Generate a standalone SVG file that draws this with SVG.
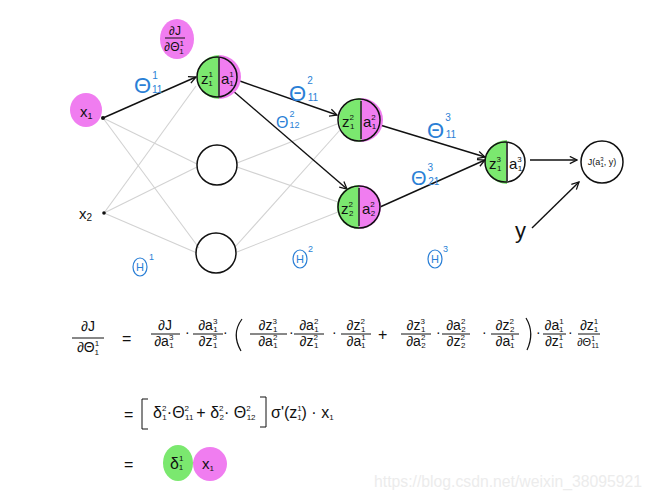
<svg xmlns="http://www.w3.org/2000/svg" width="654" height="500" viewBox="0 0 654 500">
<defs>
<marker id="ah" viewBox="0 0 10 10" refX="9" refY="5" markerWidth="9" markerHeight="9" markerUnits="userSpaceOnUse" orient="auto"><path d="M1,1 L9,5 L1,9" fill="none" stroke="#111" stroke-width="1.4"/></marker>
</defs>
<style>
.g{stroke:#d2d2d2;stroke-width:1.1;fill:none}
.k{stroke:#111;stroke-width:1.4;fill:none}
.a{marker-end:url(#ah)}
.nd{fill:none;stroke:#111;stroke-width:1.5}
.dv{stroke:#444;stroke-width:2}
.gr{fill:#7be86f}
.pk{fill:#f07df0}
.t{font-family:"Liberation Sans","DejaVu Sans",sans-serif;fill:#111}
.bl{font-family:"Liberation Sans","DejaVu Sans",sans-serif;fill:#2a7fd6}
.s{font-size:8px}
.fb{stroke:#111;stroke-width:1}
.pa{stroke:#111;stroke-width:1.2;fill:none}
.eq{font-size:14px}
.wm{font-family:"Liberation Sans",sans-serif;font-size:16px;fill:#ececec}
</style>
<rect width="654" height="500" fill="#fff"/>

<g id="connectors">
<line class="g" x1="103" y1="118" x2="197" y2="164"/>
<line class="g" x1="103" y1="118" x2="199" y2="248"/>
<line class="g" x1="104" y1="213" x2="196" y2="86"/>
<line class="g" x1="104" y1="213" x2="197" y2="167"/>
<line class="g" x1="104" y1="213" x2="197" y2="253"/>
<line class="g" x1="237" y1="163" x2="337" y2="124"/>
<line class="g" x1="237" y1="167" x2="338" y2="202"/>
<line class="g" x1="235" y1="247" x2="340" y2="130"/>
<line class="g" x1="237" y1="252" x2="338" y2="212"/>
<line class="k a" x1="103" y1="118" x2="196" y2="77"/>
<line class="k a" x1="237" y1="80" x2="337" y2="115"/>
<line class="k a" x1="232" y1="90" x2="347" y2="189"/>
<line class="k a" x1="380" y1="125" x2="485" y2="157"/>
<line class="k a" x1="380" y1="207" x2="485" y2="160"/>
<line class="k a" x1="530" y1="160" x2="577" y2="160"/>
<line class="k a" x1="532" y1="228" x2="579" y2="182"/>
</g>

<g id="x1">
<ellipse class="pk" cx="86" cy="110" rx="16" ry="17"/>
<text class="t" x="80" y="117" font-size="15">x<tspan font-size="9" dy="2">1</tspan></text>
<circle cx="103" cy="118" r="2" fill="#111"/>
</g>
<g id="x2">
<text class="t" x="79" y="219" font-size="15">x<tspan font-size="10" dy="2">2</tspan></text>
<circle cx="104" cy="213" r="1.8" fill="#111"/>
</g>

<g id="dJ">
<ellipse class="pk" cx="177" cy="39" rx="17" ry="20"/>
<text class="t" x="175" y="35" font-size="12" text-anchor="middle">∂J</text>
<line class="fb" x1="165" y1="38" x2="185" y2="38"/>
<text class="t" x="174" y="51" font-size="12" text-anchor="middle">∂Θ<tspan class="s" dy="-5">1</tspan><tspan class="s" dx="-4" dy="8">1</tspan></text>
</g>

<g id="n11">
<path class="gr" d="M219,55 A22,22 0 0 0 219,99 Z"/>
<path class="pk" d="M219,55 A22,22 0 0 1 219,99 Z"/>
<circle class="nd" cx="217" cy="77" r="20"/>
<line class="dv" x1="219" y1="58" x2="219" y2="96"/>
<text class="t" x="201" y="84" font-size="15">z<tspan class="s" dy="-7">1</tspan><tspan class="s" dx="-4" dy="9">1</tspan></text>
<text class="t" x="221" y="84" font-size="15">a<tspan class="s" dy="-7">1</tspan><tspan class="s" dx="-4" dy="9">1</tspan></text>
</g>
<g id="n12"><circle class="nd" cx="217" cy="165" r="20"/></g>
<g id="n13"><circle class="nd" cx="216" cy="253" r="20"/></g>

<g id="n21">
<path class="gr" d="M361,98 A22,22 0 0 0 361,142 Z"/>
<path class="pk" d="M361,98 A22,22 0 0 1 361,142 Z"/>
<circle class="nd" cx="359" cy="120" r="21"/>
<line class="dv" x1="361" y1="101" x2="361" y2="139"/>
<text class="t" x="342" y="127" font-size="15">z<tspan class="s" dy="-7">2</tspan><tspan class="s" dx="-4" dy="9">1</tspan></text>
<text class="t" x="363" y="127" font-size="15">a<tspan class="s" dy="-7">2</tspan><tspan class="s" dx="-4" dy="9">1</tspan></text>
</g>
<g id="n22">
<path class="gr" d="M359,185 A22,22 0 0 0 359,229 Z"/>
<path class="pk" d="M359,185 A22,22 0 0 1 359,229 Z"/>
<circle class="nd" cx="359" cy="207" r="21"/>
<line class="dv" x1="359" y1="188" x2="359" y2="226"/>
<text class="t" x="341" y="214" font-size="15">z<tspan class="s" dy="-7">2</tspan><tspan class="s" dx="-4" dy="9">2</tspan></text>
<text class="t" x="362" y="214" font-size="15">a<tspan class="s" dy="-7">2</tspan><tspan class="s" dx="-4" dy="9">2</tspan></text>
</g>

<g id="n31">
<path class="gr" d="M507,140 A22,22 0 0 0 507,184 Z"/>
<circle class="nd" cx="505" cy="162" r="20"/>
<line class="dv" x1="507" y1="143" x2="507" y2="181"/>
<text class="t" x="489" y="169" font-size="15">z<tspan class="s" dy="-7">3</tspan><tspan class="s" dx="-4" dy="9">1</tspan></text>
<text class="t" x="509" y="169" font-size="15">a<tspan class="s" dy="-7">3</tspan><tspan class="s" dx="-4" dy="9">1</tspan></text>
</g>

<g id="J">
<circle class="nd" cx="602" cy="162" r="21"/>
<text class="t" x="602" y="165" font-size="9" text-anchor="middle">J(a<tspan font-size="6" dy="-4">3</tspan><tspan font-size="6" dx="-3" dy="6">1</tspan><tspan dy="-2">, y)</tspan></text>
</g>

<g id="y">
<text class="t" x="515" y="238" font-size="22">y</text>
</g>

<g id="weights">
<text class="bl" x="134" y="93" font-size="22">Θ<tspan font-size="10" dx="1" dy="-14">1</tspan><tspan font-size="10" dx="-5" dy="14">11</tspan></text>
<text class="bl" x="289" y="101" font-size="22">Θ<tspan font-size="10" dx="1" dy="-17">2</tspan><tspan font-size="10" dx="-5" dy="17">11</tspan></text>
<text class="bl" x="276" y="128" font-size="16">Θ<tspan font-size="9" dx="1" dy="-11">2</tspan><tspan font-size="9" dx="-5" dy="11">12</tspan></text>
<text class="bl" x="427" y="138" font-size="22">Θ<tspan font-size="10" dx="1" dy="-17">3</tspan><tspan font-size="10" dx="-5" dy="17">11</tspan></text>
<text class="bl" x="411" y="185" font-size="20">Θ<tspan font-size="10" dx="1" dy="-14">3</tspan><tspan font-size="10" dx="-5" dy="14">21</tspan></text>
</g>

<g id="layers">
<ellipse cx="140" cy="267" rx="7" ry="9" fill="none" stroke="#2a7fd6" stroke-width="1.2"/>
<text class="bl" x="140" y="271" font-size="11" text-anchor="middle">H</text>
<text class="bl" x="149" y="260" font-size="9">1</text>
<ellipse cx="300" cy="259" rx="7" ry="9" fill="none" stroke="#2a7fd6" stroke-width="1.2"/>
<text class="bl" x="300" y="263" font-size="11" text-anchor="middle">H</text>
<text class="bl" x="308" y="252" font-size="9">2</text>
<ellipse cx="435" cy="259" rx="7" ry="9" fill="none" stroke="#2a7fd6" stroke-width="1.2"/>
<text class="bl" x="435" y="263" font-size="11" text-anchor="middle">H</text>
<text class="bl" x="443" y="252" font-size="9">3</text>
</g>

<g id="eq1" class="t eq">
<text x="88" y="331" text-anchor="middle">∂J</text>
<line class="fb" x1="72" y1="338" x2="104" y2="338"/>
<text x="88" y="352" text-anchor="middle">∂Θ<tspan class="s" dy="-6">1</tspan><tspan class="s" dx="-4" dy="9">1</tspan></text>
<text x="122" y="344" font-size="16">=</text>

<text x="165" y="330" text-anchor="middle">∂J</text>
<line class="fb" x1="151" y1="334" x2="180" y2="334"/>
<text x="164" y="346" text-anchor="middle">∂a<tspan class="s" dy="-6">3</tspan><tspan class="s" dx="-4" dy="8">1</tspan></text>
<text x="185" y="337">·</text>

<text x="208" y="330" text-anchor="middle">∂a<tspan class="s" dy="-6">3</tspan><tspan class="s" dx="-4" dy="8">1</tspan></text>
<line class="fb" x1="193" y1="334" x2="223" y2="334"/>
<text x="208" y="346" text-anchor="middle">∂z<tspan class="s" dy="-6">3</tspan><tspan class="s" dx="-4" dy="8">1</tspan></text>
<text x="223" y="337">·</text>
<path class="pa" d="M242,319 Q231,334 241,351"/>

<text x="268" y="330" text-anchor="middle">∂z<tspan class="s" dy="-6">3</tspan><tspan class="s" dx="-4" dy="8">1</tspan></text>
<line class="fb" x1="250" y1="334" x2="287" y2="334"/>
<text x="268" y="346" text-anchor="middle">∂a<tspan class="s" dy="-6">2</tspan><tspan class="s" dx="-4" dy="8">1</tspan></text>
<text x="289" y="337">·</text>

<text x="309" y="330" text-anchor="middle">∂a<tspan class="s" dy="-6">2</tspan><tspan class="s" dx="-4" dy="8">1</tspan></text>
<line class="fb" x1="294" y1="334" x2="324" y2="334"/>
<text x="309" y="346" text-anchor="middle">∂z<tspan class="s" dy="-6">2</tspan><tspan class="s" dx="-4" dy="8">1</tspan></text>
<text x="332" y="337">·</text>

<text x="356" y="330" text-anchor="middle">∂z<tspan class="s" dy="-6">2</tspan><tspan class="s" dx="-4" dy="8">1</tspan></text>
<line class="fb" x1="341" y1="334" x2="371" y2="334"/>
<text x="356" y="346" text-anchor="middle">∂a<tspan class="s" dy="-6">1</tspan><tspan class="s" dx="-4" dy="8">1</tspan></text>
<text x="378" y="340" font-size="16">+</text>

<text x="416" y="330" text-anchor="middle">∂z<tspan class="s" dy="-6">3</tspan><tspan class="s" dx="-4" dy="8">1</tspan></text>
<line class="fb" x1="401" y1="334" x2="431" y2="334"/>
<text x="416" y="346" text-anchor="middle">∂a<tspan class="s" dy="-6">2</tspan><tspan class="s" dx="-4" dy="8">2</tspan></text>
<text x="436" y="337">·</text>

<text x="456" y="330" text-anchor="middle">∂a<tspan class="s" dy="-6">2</tspan><tspan class="s" dx="-4" dy="8">2</tspan></text>
<line class="fb" x1="442" y1="334" x2="470" y2="334"/>
<text x="456" y="346" text-anchor="middle">∂z<tspan class="s" dy="-6">2</tspan><tspan class="s" dx="-4" dy="8">2</tspan></text>
<text x="482" y="337">·</text>

<text x="505" y="330" text-anchor="middle">∂z<tspan class="s" dy="-6">2</tspan><tspan class="s" dx="-4" dy="8">2</tspan></text>
<line class="fb" x1="491" y1="334" x2="519" y2="334"/>
<text x="505" y="346" text-anchor="middle">∂a<tspan class="s" dy="-6">1</tspan><tspan class="s" dx="-4" dy="8">1</tspan></text>
<path class="pa" d="M526,318 Q535,333 527,350"/>
<text x="536" y="337">·</text>

<text x="554" y="330" text-anchor="middle">∂a<tspan class="s" dy="-6">1</tspan><tspan class="s" dx="-4" dy="8">1</tspan></text>
<line class="fb" x1="543" y1="334" x2="566" y2="334"/>
<text x="554" y="346" text-anchor="middle">∂z<tspan class="s" dy="-6">1</tspan><tspan class="s" dx="-4" dy="8">1</tspan></text>
<text x="568" y="337">·</text>

<text x="589" y="330" text-anchor="middle">∂z<tspan class="s" dy="-6">1</tspan><tspan class="s" dx="-4" dy="8">1</tspan></text>
<line class="fb" x1="578" y1="334" x2="600" y2="334"/>
<text x="588" y="346" text-anchor="middle" font-size="11">∂Θ<tspan font-size="7" dy="-5">1</tspan><tspan font-size="7" dx="-3" dy="7">11</tspan></text>
</g>

<g id="eq2" class="t">
<text x="124" y="420" font-size="16">=</text>
<path d="M148,399 L142,399 L142,429 L148,429" class="fb" fill="none"/>
<text x="153" y="418" font-size="16">δ<tspan class="s" dy="-7">2</tspan><tspan class="s" dx="-4" dy="9">1</tspan><tspan dy="-2">·Θ</tspan><tspan class="s" dy="-7">2</tspan><tspan class="s" dx="-4" dy="9">11</tspan><tspan dx="3" dy="-2">+ δ</tspan><tspan class="s" dy="-7">2</tspan><tspan class="s" dx="-4" dy="9">2</tspan><tspan dy="-2">· Θ</tspan><tspan class="s" dy="-7">2</tspan><tspan class="s" dx="-4" dy="9">12</tspan></text>
<path d="M260,397 L266,397 L266,427 L260,427" class="fb" fill="none"/>
<text x="271" y="418" font-size="16">σ'(z<tspan class="s" dy="-7">1</tspan><tspan class="s" dx="-4" dy="9">1</tspan><tspan dy="-2">) · x</tspan><tspan class="s" dy="2">1</tspan></text>
</g>

<g id="eq3" class="t">
<text x="124" y="470" font-size="16">=</text>
<ellipse class="gr" cx="178" cy="463" rx="15" ry="18"/>
<text x="170" y="469" font-size="16">δ<tspan class="s" dy="-8">1</tspan><tspan class="s" dx="-4" dy="9">1</tspan></text>
<text x="192" y="466" font-size="12">·</text>
<ellipse class="pk" cx="210" cy="464" rx="17" ry="17"/>
<text x="202" y="469" font-size="15">x<tspan class="s" dy="2">1</tspan></text>
</g>

<text class="wm" x="374" y="487" textLength="268" lengthAdjust="spacingAndGlyphs">https://blog.csdn.net/weixin_38095921</text>
</svg>
